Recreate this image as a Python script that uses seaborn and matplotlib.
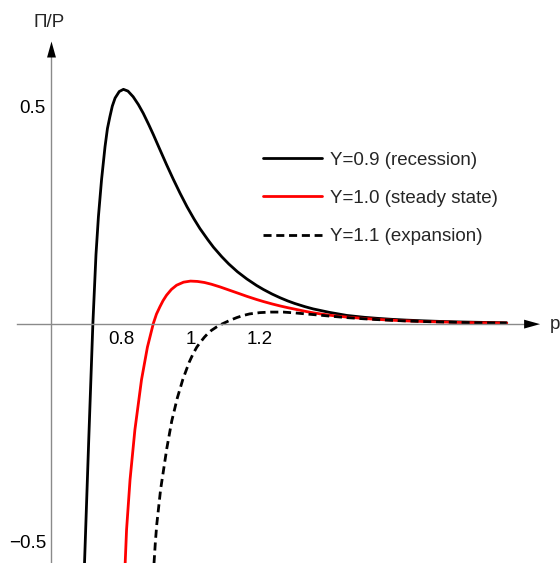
import matplotlib
matplotlib.use("Agg")
import matplotlib.pyplot as plt
import seaborn as sns

black_p = [0.695, 0.707, 0.713, 0.719, 0.728, 0.735, 0.744, 0.754, 0.761, 0.768,
           0.775, 0.783, 0.795, 0.807, 0.820, 0.835, 0.850, 0.864, 0.880, 0.893,
           0.910, 0.931, 0.950, 0.970, 0.990, 1.010, 1.027, 1.050, 1.066, 1.090,
           1.110, 1.135, 1.162, 1.190, 1.210, 1.235, 1.258, 1.280, 1.300, 1.330,
           1.353, 1.400, 1.450, 1.500, 1.536, 1.580, 1.620, 1.670, 1.720, 1.770,
           1.820, 1.870, 1.910]
black_v = [-0.55, -0.27, -0.135, 0.0, 0.16, 0.247, 0.332, 0.408, 0.450, 0.477,
           0.5015, 0.520, 0.535, 0.540, 0.536, 0.523, 0.505, 0.485, 0.4586, 0.436,
           0.405, 0.367, 0.334, 0.301, 0.270, 0.242, 0.220, 0.194, 0.177, 0.155,
           0.1385, 0.1205, 0.104, 0.089, 0.0796, 0.0691, 0.0606, 0.0533, 0.0475, 0.040,
           0.035, 0.027, 0.020, 0.0157, 0.0134, 0.011, 0.0093, 0.0076, 0.0062, 0.0051,
           0.0043, 0.0036, 0.0031]

red_p = [0.812, 0.816, 0.826, 0.840, 0.859, 0.876, 0.893, 0.902, 0.912, 0.921,
         0.931, 0.945, 0.960, 0.980, 1.000, 1.020, 1.040, 1.060, 1.085, 1.110,
         1.138, 1.162, 1.190, 1.210, 1.235, 1.258, 1.280, 1.300, 1.330, 1.353,
         1.400, 1.450, 1.500, 1.536, 1.580, 1.620, 1.670, 1.720, 1.770, 1.820,
         1.870, 1.910]
red_v = [-0.55, -0.473, -0.358, -0.243, -0.128, -0.053, 0.0014, 0.023, 0.040, 0.054,
         0.0665, 0.0798, 0.0895, 0.0965, 0.099, 0.0982, 0.0958, 0.0918, 0.0856, 0.0786,
         0.0708, 0.064, 0.0567, 0.0519, 0.0464, 0.0418, 0.0378, 0.0345, 0.0295, 0.026,
         0.0205, 0.0162, 0.013, 0.011, 0.009, 0.0075, 0.006, 0.005, 0.004, 0.0033,
         0.0027, 0.0023]

dash_p = [0.895, 0.899, 0.903, 0.914, 0.932, 0.946, 0.962, 0.978, 0.996, 1.007,
          1.018, 1.029, 1.040, 1.050, 1.060, 1.075, 1.090, 1.110, 1.133, 1.150,
          1.170, 1.200, 1.230, 1.267, 1.300, 1.353, 1.400, 1.450, 1.500, 1.536,
          1.580, 1.620, 1.670, 1.720, 1.770, 1.820, 1.870, 1.910]
dash_v = [-0.55, -0.50, -0.46, -0.38, -0.285, -0.223, -0.170, -0.127, -0.088, -0.069,
          -0.053, -0.041, -0.030, -0.0215, -0.0145, -0.0065, 0.0, 0.0075, 0.015, 0.0195,
          0.0235, 0.0265, 0.0277, 0.0277, 0.0258, 0.022, 0.0185, 0.015, 0.0122, 0.0105,
          0.0087, 0.0073, 0.006, 0.0049, 0.004, 0.0033, 0.0027, 0.0023]

labels = ["Y=0.9 (recession)", "Y=1.0 (steady state)", "Y=1.1 (expansion)"]
xticks = [0.8, 1.0, 1.2]
xticklabels = ["0.8", "1", "1.2"]
yticks = [-0.5, 0, 0.5]
yticklabels = ["\u22120.5", "", "0.5"]

sns.set_style("white")
plt.rcParams["font.family"] = ["Liberation Sans", "DejaVu Sans"]
fs = 13.5

axis_gray = "#8a8a8a"

fig = plt.figure(figsize=(5.6, 5.63), dpi=100)
ax = fig.add_axes([0, 0, 1, 1])
ax.set_xlim(0.4518, 2.0633)
ax.set_ylim(-0.5494, 0.7455)

sns.lineplot(x=black_p, y=black_v, ax=ax, color="black", lw=2.0,
             estimator=None, label=labels[0])
sns.lineplot(x=red_p, y=red_v, ax=ax, color="#ff0000", lw=2.0,
             estimator=None, label=labels[1])
sns.lineplot(x=dash_p, y=dash_v, ax=ax, color="black", lw=2.0,
             estimator=None, label=labels[2], linestyle=(0, (2.9, 1.7)))

# axes cross at (0.6, 0) like the original
for s in ["top", "right"]:
    ax.spines[s].set_visible(False)
ax.spines["left"].set_position(("data", 0.6))
ax.spines["bottom"].set_position(("data", 0))
ax.spines["left"].set_bounds(-0.56, 0.62)
ax.spines["bottom"].set_bounds(0.5, 1.97)
for s in ["left", "bottom"]:
    ax.spines[s].set_color(axis_gray)
    ax.spines[s].set_linewidth(1.0)

ax.set_xticks(xticks)
ax.set_xticklabels(xticklabels)
ax.set_yticks(yticks)
ax.set_yticklabels(yticklabels)
ax.tick_params(direction="in", length=5, width=1, color=axis_gray,
               labelcolor="black", labelsize=fs)
ax.tick_params(axis="x", pad=5)
ax.tick_params(axis="y", pad=4)

head = dict(arrowstyle="-|>,head_length=1.15,head_width=0.32", mutation_scale=10,
            color="black", lw=0, shrinkA=0, shrinkB=0)
ax.annotate("", xy=(2.006, 0), xytext=(1.95, 0), arrowprops=head)
ax.annotate("", xy=(0.6, 0.65), xytext=(0.6, 0.60), arrowprops=head)

ax.text(2.035, 0, "p", ha="left", va="center", fontsize=fs)
ax.text(0.593, 0.693, "\u03a0/P", ha="center", va="center", fontsize=fs)

ax.legend(loc="upper left", bbox_to_anchor=(263 / 560, 1 - 151.4 / 563),
          frameon=False, borderpad=0, borderaxespad=0, handlelength=3.15,
          handletextpad=0.43, labelspacing=1.136, fontsize=fs)

fig.savefig("out.png", dpi=100)
